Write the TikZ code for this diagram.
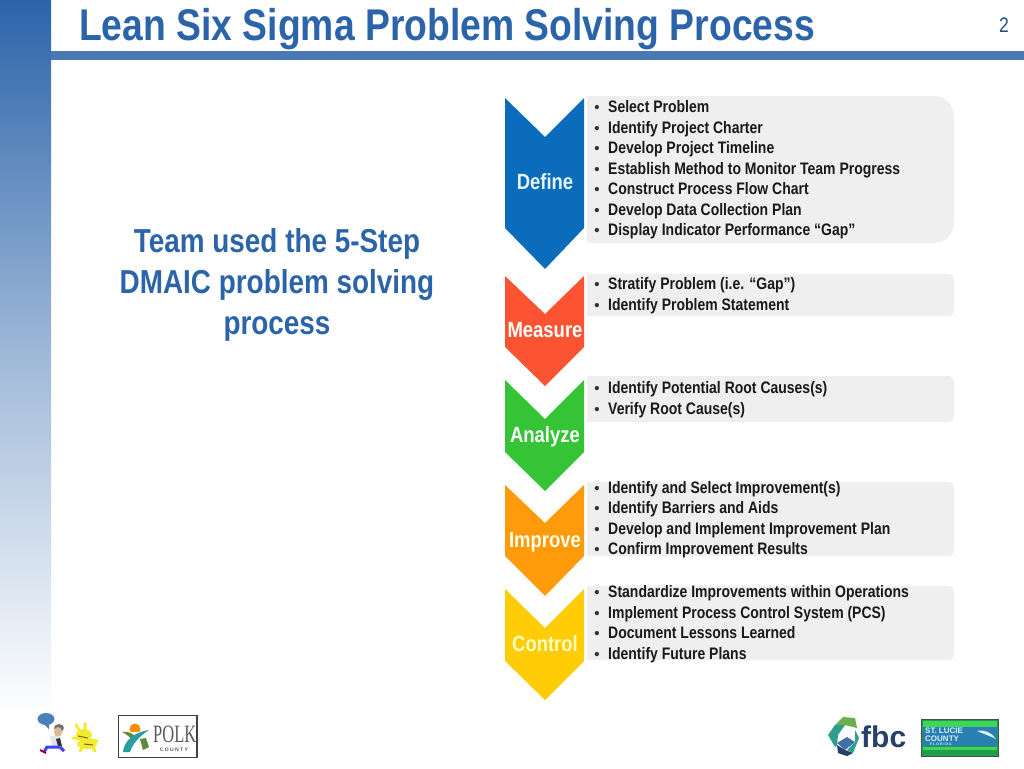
\documentclass[tikz,border=0pt]{standalone}
\usepackage{fontspec}
\setmainfont{Liberation Sans}
\newfontfamily\narrowfont[FakeStretch=0.84]{Liberation Sans}
\newfontfamily\polkfont[FakeStretch=0.66]{Liberation Serif}
\usetikzlibrary{positioning,calc}
\definecolor{deckblue}{HTML}{2C64AA}
\definecolor{rulecol}{HTML}{4A78B5}
\definecolor{boxgrey}{HTML}{EFEFEF}
\definecolor{defcol}{HTML}{0B6CBC}
\definecolor{meascol}{HTML}{FC5433}
\definecolor{anacol}{HTML}{35C435}
\definecolor{impcol}{HTML}{FF9A0A}
\definecolor{ctrlcol}{HTML}{FFCC05}
\definecolor{fbcnavy}{HTML}{27406B}
\definecolor{fbcteal}{HTML}{2F9E8F}
\definecolor{fbcgreen}{HTML}{6AB04C}
\definecolor{fbcblue}{HTML}{3F6FA8}
\definecolor{polkteal}{HTML}{2A9DA0}
\definecolor{polkgreen}{HTML}{5E8A3A}
\definecolor{luciegreen}{HTML}{1E9E4A}
\definecolor{lucielime}{HTML}{3FD45A}
\definecolor{lucieblue}{HTML}{2A7FB2}
\definecolor{bubblecol}{HTML}{4A80B8}
\definecolor{toonyellow}{HTML}{F2EC2E}
\tikzset{
  steplabel/.style={anchor=base,inner sep=0pt,text=white,font=\narrowfont\bfseries\fontsize{22}{24}\selectfont},
  itemtext/.style={anchor=base west,inner sep=0pt,text=black!90,font=\narrowfont\bfseries\fontsize{16.65}{18}\selectfont},
  itemdot/.style={anchor=base,inner sep=0pt,text=black!80,font=\bfseries\fontsize{15}{18}\selectfont},
  headtext/.style={anchor=base,inner sep=0pt,text=deckblue,font=\narrowfont\bfseries\fontsize{33.2}{36}\selectfont}
}
\begin{document}
\begin{tikzpicture}[x=1pt,y=-1pt]
  \useasboundingbox (0,0) rectangle (1024,768);
  % slide frame
  \shade[top color=deckblue,bottom color=white,middle color=deckblue!45] (0,0) rectangle (51,715);
  \fill[rulecol] (51,51) rectangle (1024,60);
  \node[headtext,anchor=base west,font=\narrowfont\bfseries\fontsize{44.4}{50}\selectfont] (title) at (79,41) {Lean Six Sigma Problem Solving Process};
  \node[anchor=center,inner sep=0pt,text=deckblue!80!black,font=\narrowfont\fontsize{21}{22}\selectfont] (pagenum) at (1004,25) {2};
  % left text
  \node[headtext] (teamone) at (277,252) {Team used the 5-Step};
  \node[headtext] (teamtwo) at (277,293) {DMAIC problem solving};
  \node[headtext] (teamthree) at (277,334) {process};
  % grey boxes
  \fill[boxgrey] (587,96) -- (934,96) arc (-90:0:20) -- (954,223) arc (0:90:20) -- (587,243) -- cycle;
  \foreach \ya/\yb in {274/316,376/422,482/556,586/660}
    \fill[boxgrey] (587,\ya) -- (948,\ya) arc (-90:0:6) -- (954,\yb-6) arc (0:90:6) -- (587,\yb) -- cycle;
  % chevrons
  \foreach \nm/\txt/\ya/\yb/\yc/\yd/\yl/\col/\tcol in {
      define/Define/98/137/228/269/189/defcol/white!90!cyan,
      measure/Measure/276/314/347/386/337/meascol/white,
      analyze/Analyze/380/419/452/491/442/anacol/white,
      improve/Improve/485/523/556/596/547/impcol/white!92!yellow,
      control/Control/589/628/661/700/651/ctrlcol/white!75!yellow}{
    \fill[\col] (505,\ya) -- (545,\yb) -- (584,\ya) -- (584,\yc) -- (545,\yd) -- (505,\yc) -- cycle;
    \node[steplabel,text=\tcol] (\nm) at (545,\yl) {\txt};
  }
  % bullet lines
  \foreach \i/\yy/\txt in {
      a/112/{Select Problem},
      b/133/{Identify Project Charter},
      c/153/{Develop Project Timeline},
      d/174/{Establish Method to Monitor Team Progress},
      e/194/{Construct Process Flow Chart},
      f/215/{Develop Data Collection Plan},
      g/235/{Display Indicator Performance “Gap”},
      h/289/{Stratify Problem (i.e. “Gap”)},
      i/310/{Identify Problem Statement},
      j/393/{Identify Potential Root Causes(s)},
      k/414/{Verify Root Cause(s)},
      l/493/{Identify and Select Improvement(s)},
      m/513/{Identify Barriers and Aids},
      n/534/{Develop and Implement Improvement Plan},
      o/554/{Confirm Improvement Results},
      p/597/{Standardize Improvements within Operations},
      q/618/{Implement Process Control System (PCS)},
      r/638/{Document Lessons Learned},
      s/659/{Identify Future Plans}}{
    \node[itemdot] (dot\i) at (597,\yy) {•};
    \node[itemtext] (item\i) at (608,\yy) {\txt};
  }
  % cartoon logo
  \fill[bubblecol] (46,719) ellipse (8.5 and 6);
  \fill[bubblecol] (43,723) -- (49,723) -- (49,729) -- cycle;
  \fill[black!55] (59,728) ellipse (5 and 4);
  \fill[brown!55!white] (58,732) ellipse (4 and 5);
  \fill[gray!20] (50,736) -- (60,736) -- (62,747) -- (52,747) -- cycle;
  \fill[black!80] (56,739) -- (60,738) -- (62,746) -- (58,746) -- cycle;
  \draw[blue!75,line width=3pt] (60,747) -- (47,747) -- (44,752);
  \draw[blue!75,line width=3pt] (60,747) -- (64,751);
  \draw[red!60!black,line width=1.8pt] (40,750) -- (46,753);
  \draw[toonyellow,line width=3pt,line cap=round] (76,725) -- (81,733) (85,723) -- (85,733) (73,738) -- (97,741) (84,745) -- (80,751) (92,745) -- (95,751);
  \fill[toonyellow] (84,735) ellipse (8 and 6);
  \fill[toonyellow] (87,744) ellipse (10 and 5);
  \draw[brown!70!black,line width=1pt] (78,736) -- (88,738) (84,744) -- (93,745);
  % polk logo
  \fill[white] (118.5,715.5) rectangle (197,757.5);
  \fill[orange!90!yellow] (135,729) circle (5.5);
  \fill[white] (125,732) rectangle (147,738);
  \fill[polkgreen] (122,732) .. controls (128,731) and (132,733) .. (136,737) -- (132,740) .. controls (129,736) and (126,734) .. (122,732) -- cycle;
  \fill[polkgreen] (140,739) -- (146,738) -- (149,747) -- (143,750) -- cycle;
  \fill[polkteal] (123,752) .. controls (124,741) and (134,732) .. (149,730) .. controls (140,736) and (133,743) .. (130,752) -- cycle;
  \draw[black!75,line width=1.2pt] (118.5,715.5) rectangle (197,757.5);
  \node[inner sep=0pt,text=black!65,font=\polkfont\fontsize{25}{26}\selectfont,anchor=base west] (polkname) at (153,742.5) {POLK};
  \node[inner sep=0pt,text=black!65,font=\bfseries\fontsize{5}{6}\selectfont] (polkcounty) at (174,749.5) {C O U N T Y};
  % fbc logo
  \fill[fbcgreen] (835,725) -- (843,717) -- (855,718) -- (857,728) -- (845,725) -- cycle;
  \fill[fbcteal] (828,735) -- (835,725) -- (845,725) -- (838,735) -- (837,745) -- (835,747) -- cycle;
  \fill[fbcblue] (837,743) -- (847,737) -- (855,742) -- (845,750) -- cycle;
  \fill[fbcteal] (855,730) -- (859,738) -- (853,753) -- (847,750) -- (855,742) -- cycle;
  \fill[fbcnavy] (837,745) -- (845,750) -- (853,753) -- (847,756) -- (838,753) -- cycle;
  \node[inner sep=0pt,anchor=base west,text=fbcnavy,font=\bfseries\fontsize{30}{33}\selectfont] (fbcname) at (861,747) {fbc};
  % st lucie logo
  \fill[luciegreen] (921.5,719) rectangle (998,756);
  \fill[lucielime] (923,721) rectangle (997,727);
  \fill[lucieblue] (923,727) rectangle (997,746);
  \fill[lucielime] (923,747) rectangle (997,750);
  \fill[white!85!cyan] (977,731) .. controls (985,729) and (992,733) .. (996,739) .. controls (990,736) and (984,734) .. (977,731) -- cycle;
  \draw[black!70,line width=0.7pt] (921.5,719) rectangle (998,756);
  \node[inner sep=0pt,text=white!85!cyan,font=\bfseries\fontsize{8}{8}\selectfont,anchor=west] (lucieone) at (925,731) {ST. LUCIE};
  \node[inner sep=0pt,text=white!85!cyan,font=\bfseries\fontsize{8}{8}\selectfont,anchor=west] (lucietwo) at (925,738.5) {COUNTY};
  \node[inner sep=0pt,text=white!85!cyan,font=\bfseries\fontsize{3.5}{4}\selectfont,anchor=west] (luciethree) at (930,744.5) {F L O R I D A};
\end{tikzpicture}
\end{document}
